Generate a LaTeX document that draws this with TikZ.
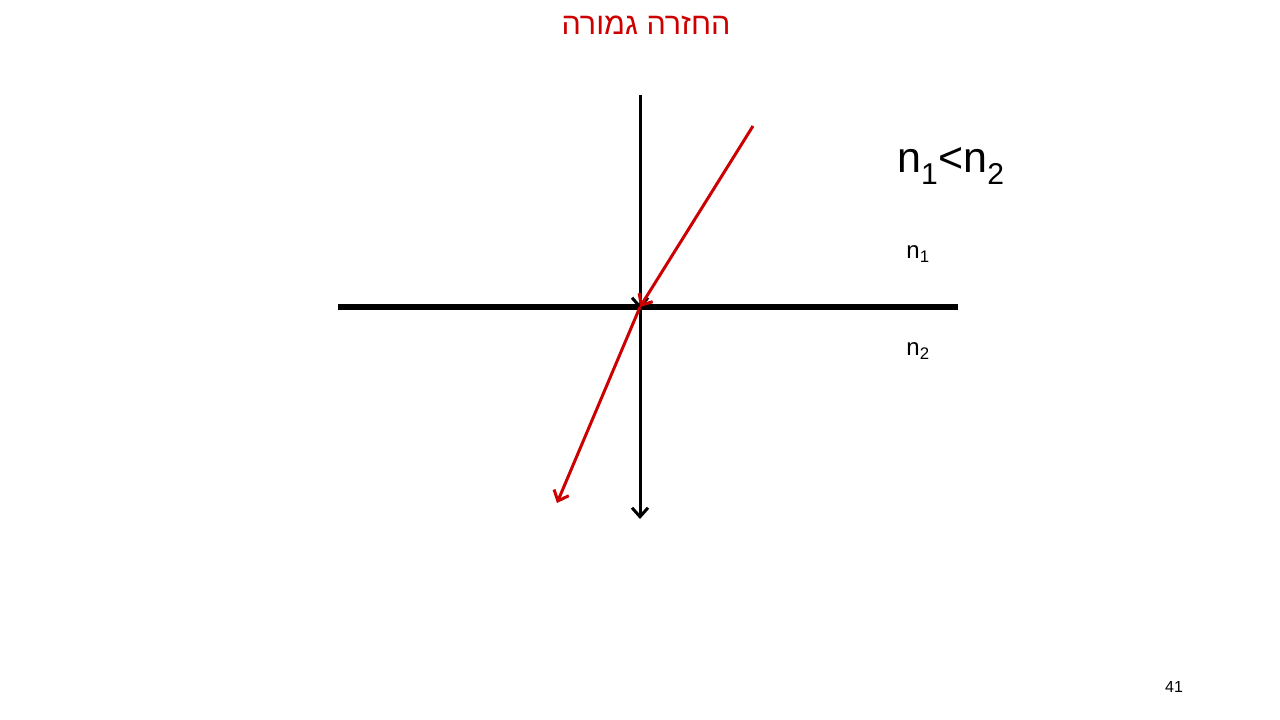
\documentclass[tikz,border=0pt]{standalone}
\usepackage{fontspec}
\setmainfont{Liberation Sans}
\newfontfamily\hebfont[Script=Hebrew]{Liberation Sans}
\TeXXeTstate=1
\usetikzlibrary{arrows.meta}
\definecolor{rayred}{RGB}{204,0,0}
\begin{document}
\begin{tikzpicture}[x=1pt,y=-1pt,
  normal/.style={line width=3pt,black},
  ray/.style={line width=3pt,rayred},
  tip/.style={-{Straight Barb[length=9pt,width=16pt,line width=3pt]}},
  surface/.style={line width=6pt,black},
  lbl/.style={inner sep=0pt,font=\fontsize{24}{28}\selectfont}]
\useasboundingbox (0,0) rectangle (1280,720);
\node (title) at (646,25) {\hebfont\fontsize{30.5}{34}\selectfont\color{rayred}\beginR החזרה גמורה\endR};
\coordinate (top) at (640,95);
\coordinate (O) at (640,307);
\coordinate (bot) at (640,519);
\coordinate (left) at (338,307);
\coordinate (right) at (958,307);
\coordinate (rs) at (753,126);
\coordinate (re) at (557,503);
\draw[surface] (left) -- (right);
\draw[normal,tip] (top) -- ([yshift=-2pt]O);
\draw[normal,tip] (O) -- (bot);
\draw[ray,tip] (rs) -- (O);
\draw[ray,tip] (O) -- (re);
\node[inner sep=0pt,font=\fontsize{43}{48}\selectfont] (cond) at (951,166) {n\textsubscript{1}<n\textsubscript{2}};
\node[lbl] (n1) at (918,254) {n\textsubscript{1}};
\node[lbl] (n2) at (918,351) {n\textsubscript{2}};
\node[inner sep=0pt,font=\fontsize{16}{18}\selectfont] (page) at (1174,687) {41};
\end{tikzpicture}
\end{document}
